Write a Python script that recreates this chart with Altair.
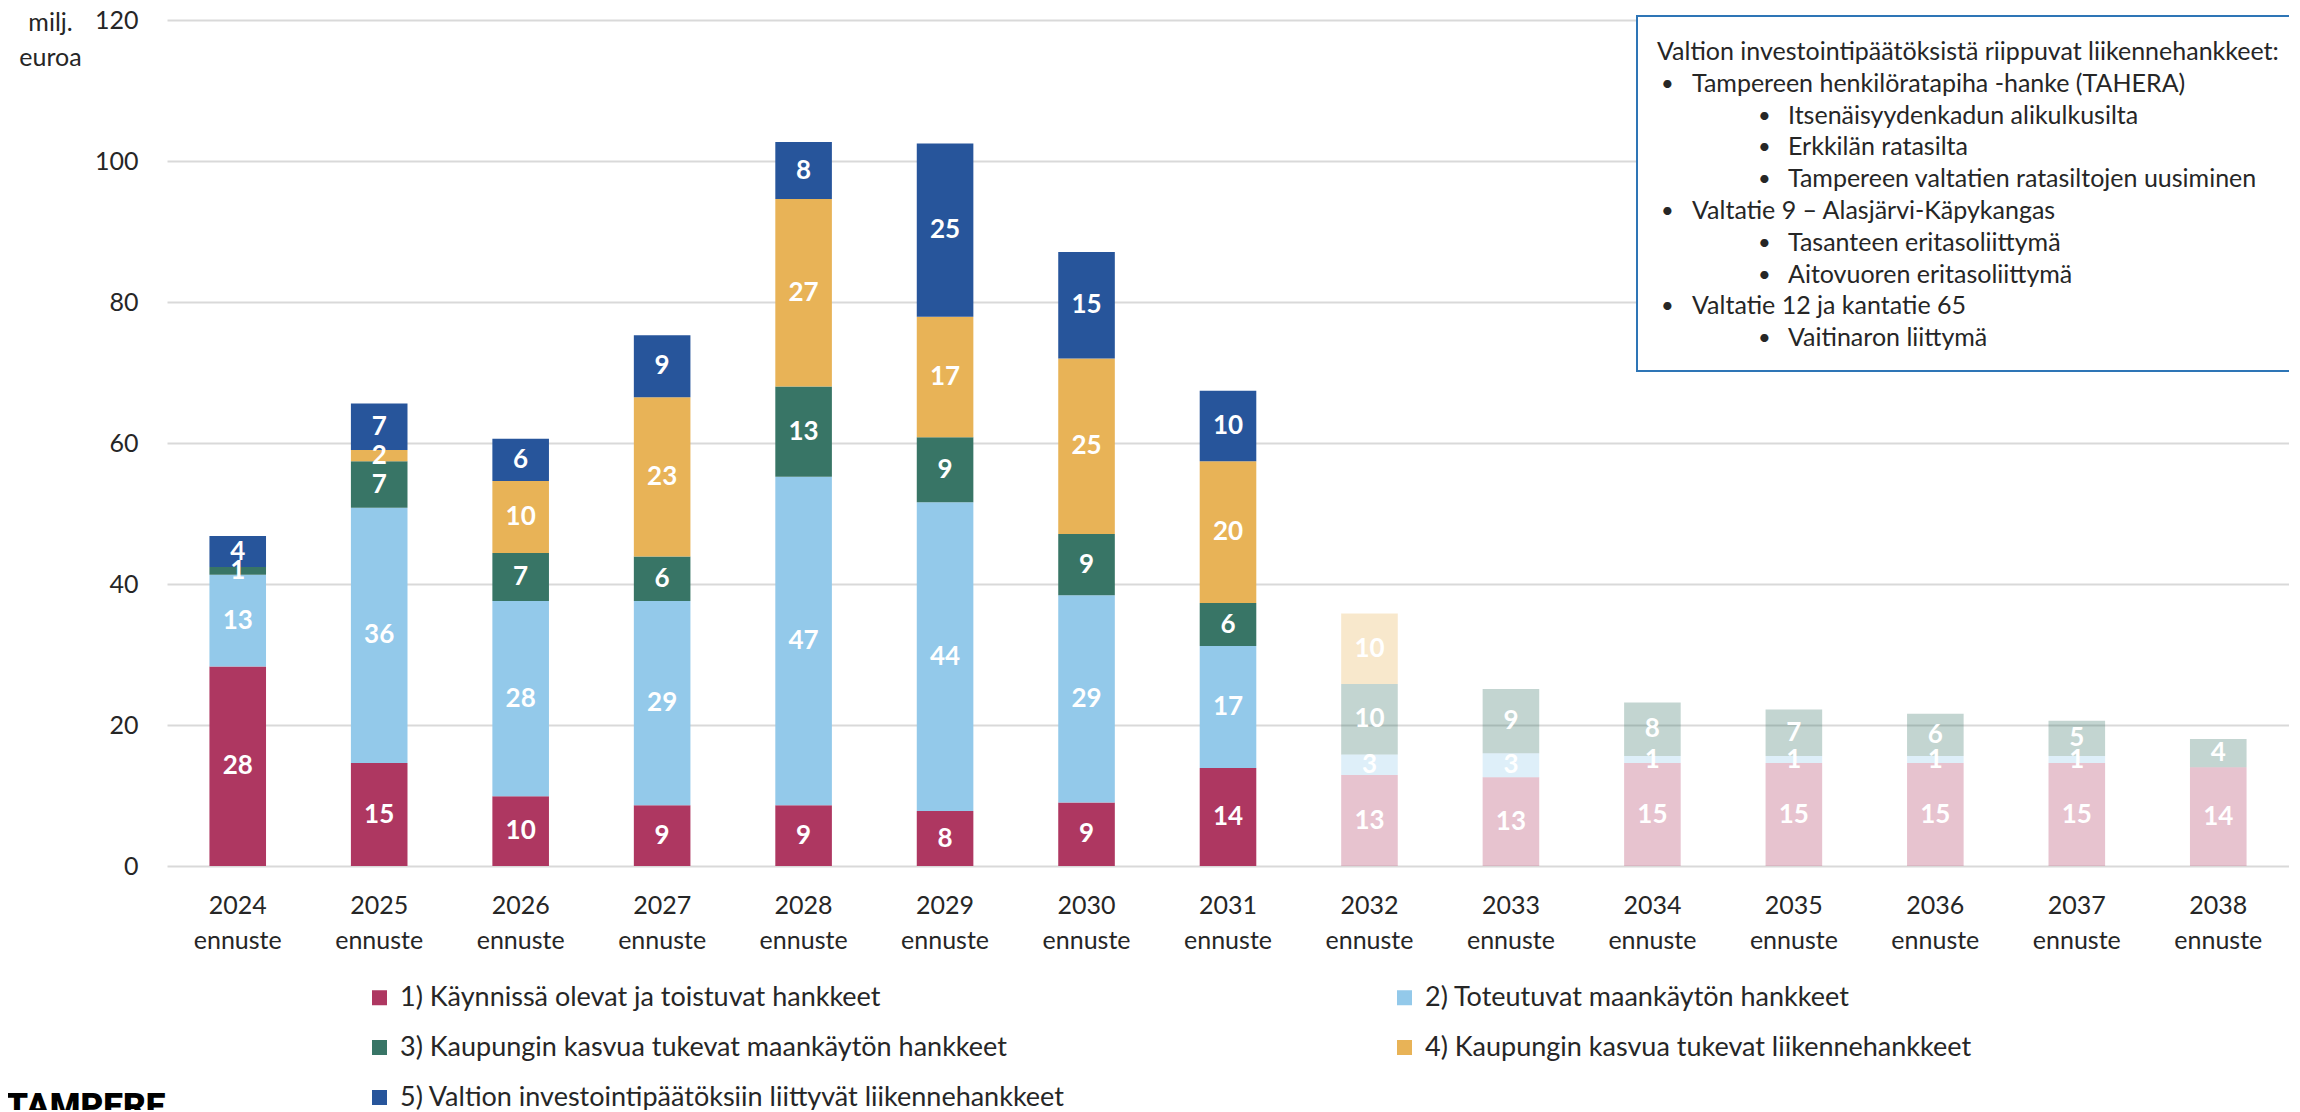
import altair as alt
import pandas as pd

# ---------------- data ----------------
years = ["2024", "2025", "2026", "2027", "2028", "2029", "2030", "2031",
         "2032", "2033", "2034", "2035", "2036", "2037", "2038"]
future_years = ["2032", "2033", "2034", "2035", "2036", "2037", "2038"]

series = [
    "1) Käynnissä olevat ja toistuvat hankkeet",
    "2) Toteutuvat maankäytön hankkeet",
    "3) Kaupungin kasvua tukevat maankäytön hankkeet",
    "4) Kaupungin kasvua tukevat liikennehankkeet",
    "5) Valtion investointipäätöksiin liittyvät liikennehankkeet",
]
colors = ["#ae3761", "#93c9ea", "#387566", "#e8b357", "#27559b"]

s1 = [28.3, 14.6, 9.9, 8.6, 8.6, 7.8, 9.0, 13.9, 12.9, 12.6, 14.6, 14.6, 14.6, 14.6, 14.0]
s2 = [13.0, 36.2, 27.7, 29.0, 46.6, 43.8, 29.4, 17.3, 2.9, 3.4, 1.0, 1.0, 1.0, 1.0, 0.0]
s3 = [1.1, 6.6, 6.8, 6.3, 12.8, 9.2, 8.7, 6.1, 10.0, 9.1, 7.6, 6.6, 6.0, 5.0, 4.0]
s4 = [0.0, 1.6, 10.2, 22.6, 26.6, 17.1, 24.9, 20.1, 10.0, 0.0, 0.0, 0.0, 0.0, 0.0, 0.0]
s5 = [4.4, 6.6, 6.0, 8.8, 8.1, 24.6, 15.1, 10.0, 0.0, 0.0, 0.0, 0.0, 0.0, 0.0, 0.0]

y_ticks = [0, 20, 40, 60, 80, 100, 120]
y_title = ["milj.", "euroa"]
x_suffix = "ennuste"

box_lines = [
    "Valtion investointipäätöksistä riippuvat liikennehankkeet:",
    "Tampereen henkilöratapiha -hanke (TAHERA)",
    "Itsenäisyydenkadun alikulkusilta",
    "Erkkilän ratasilta",
    "Tampereen valtatien ratasiltojen uusiminen",
    "Valtatie 9 – Alasjärvi-Käpykangas",
    "Tasanteen eritasoliittymä",
    "Aitovuoren eritasoliittymä",
    "Valtatie 12 ja kantatie 65",
    "Vaitinaron liittymä",
]
box_levels = [0, 1, 2, 2, 2, 1, 2, 2, 1, 2]
logo_text = "TAMPERE"

# ---------------- tables ----------------
rows = []
for sid, (name, vals) in enumerate(zip(series, [s1, s2, s3, s4, s5])):
    for yr, v in zip(years, vals):
        rows.append({"year": yr, "sid": sid, "series": name, "value": v,
                     "op": 0.3 if yr in future_years else 1.0})
df = pd.DataFrame(rows)

box_df = pd.DataFrame({"row": list(range(len(box_lines))), "line": box_lines,
                       "level": box_levels})

FONT = "Lato"
TXT = "#262626"

x_axis = alt.Axis(title=None, labelExpr="[datum.label, '%s']" % x_suffix,
                  labelLineHeight=35, labelPadding=27, labelFontSize=25,
                  labelFont=FONT, labelColor=TXT, ticks=False, domain=False,
                  grid=False, labelAngle=0)
y_axis = alt.Axis(title=y_title, titleAngle=0, titleX=-117, titleY=-10,
                  titleAlign="center", titleBaseline="top", titleLineHeight=35,
                  titleFontSize=25, titleFont=FONT, titleFontWeight="normal",
                  titleColor=TXT, values=y_ticks, grid=True, gridColor="#d9d9d9",
                  gridWidth=2, domain=False, ticks=False, labelPadding=29,
                  labelFontSize=25, labelFont=FONT, labelColor=TXT)

x_enc = alt.X("year:N", sort=years,
              scale=alt.Scale(paddingInner=0.6, paddingOuter=0.3), axis=x_axis)
y_scale = alt.Scale(domain=[0, 120], nice=False)

base = (alt.Chart(df)
        .transform_stack(stack="value", groupby=["year"], as_=["y0", "y1"],
                         sort=[alt.SortField("sid", order="ascending")])
        .transform_calculate(mid="(datum.y0 + datum.y1) / 2")
        .transform_filter("datum.value > 0"))

bars = base.mark_bar().encode(
    x=x_enc,
    y=alt.Y("y0:Q", scale=y_scale, axis=y_axis),
    y2="y1:Q",
    color=alt.Color("series:N", scale=alt.Scale(domain=series, range=colors),
                    legend=alt.Legend(title=None, orient="none", legendX=199,
                                      legendY=964, columns=2, direction="horizontal",
                                      columnPadding=326, rowPadding=22,
                                      symbolType="square", symbolSize=225,
                                      symbolStrokeWidth=0, symbolOpacity=1,
                                      labelFontSize=27, labelFont=FONT,
                                      labelColor=TXT, labelOffset=7,
                                      labelLimit=2000, padding=0)),
    opacity=alt.Opacity("op:Q", scale=None, legend=None),
)

labels = base.mark_text(color="white", font=FONT, fontWeight="bold", fontSize=26,
                        baseline="middle", align="center").encode(
    x=x_enc,
    y=alt.Y("mid:Q", scale=y_scale, axis=y_axis),
    text=alt.Text("value:Q", format=".0f"),
)

one = pd.DataFrame({"a": [0]})
box = alt.Chart(one).mark_rect(fill="white", stroke="#2e75b6", strokeWidth=2).encode(
    x=alt.value(1470), x2=alt.value(2150), y=alt.value(-4), y2=alt.value(351))

layers = [bars, labels, box]
text_x = {0: 1490, 1: 1525, 2: 1621}
bullet_x = {1: 1494, 2: 1591}
for i, lvl in enumerate(box_levels):
    yy = 32 + 31.8 * i
    layers.append(
        alt.Chart(box_df).transform_filter(alt.datum.row == i)
        .mark_text(font=FONT, fontSize=25, color=TXT, align="left", baseline="middle")
        .encode(x=alt.value(text_x[lvl]), y=alt.value(yy), text="line:N"))
    if lvl > 0:
        layers.append(
            alt.Chart(box_df).transform_filter(alt.datum.row == i)
            .mark_text(font=FONT, fontSize=22, color=TXT, align="left",
                       baseline="middle", text="•")
            .encode(x=alt.value(bullet_x[lvl]), y=alt.value(yy)))

logo = alt.Chart(pd.DataFrame({"t": [logo_text]})).mark_text(
    font="Roboto", fontWeight=900, fontSize=35, color="black", align="left",
    baseline="top").encode(x=alt.value(-161), y=alt.value(1070), text="t:N")
layers.append(logo)

chart = alt.layer(*layers).properties(
    width=2122, height=846,
    autosize=alt.AutoSizeParams(type="none"),
    padding={"left": 159, "top": 12, "right": 0, "bottom": 244},
).configure_view(stroke=None)

chart.save("out.html", embed_options={"renderer": "svg", "actions": False})
